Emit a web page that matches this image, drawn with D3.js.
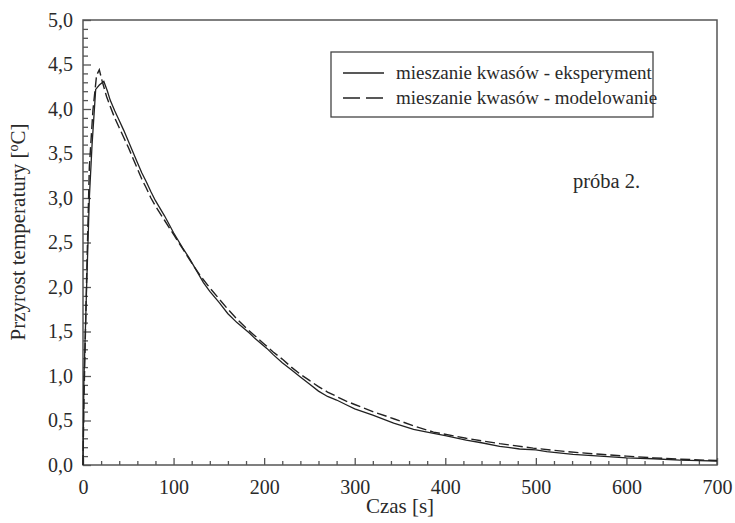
<!DOCTYPE html>
<html><head><meta charset="utf-8">
<script src="https://cdn.jsdelivr.net/npm/d3@7"></script>
<style>body{margin:0;background:#fff}svg{display:block}text{font-family:"Liberation Serif","DejaVu Serif",serif;fill:#2a2a2a}</style>
</head><body><svg id="c" width="735" height="523"></svg>
<script>
const expT = [0,1,4,7,10,14,18,23,27,30,35,40,45,50,55,60,65,70,75,80,90,100,110,117,125,133,140,150,160,170,184,190,203,210,220,230,240,250,260,270,280,290,300,320,343,365,380,400,423,440,460,482,500,512,541,571,600,630,659,680,700];
const expV = [0,0.95,2.0,3.0,3.6,4.22,4.27,4.31,4.2,4.10,3.98,3.87,3.76,3.64,3.52,3.40,3.28,3.18,3.07,2.97,2.80,2.61,2.44,2.33,2.19,2.05,1.95,1.83,1.70,1.60,1.48,1.42,1.31,1.24,1.15,1.07,0.99,0.91,0.83,0.77,0.73,0.68,0.63,0.56,0.47,0.40,0.37,0.33,0.28,0.25,0.21,0.18,0.17,0.15,0.12,0.10,0.08,0.07,0.055,0.05,0.045];
const modT = [0,1,4,7,11,15,18,21,26,30,35,40,45,50,55,60,65,70,75,80,90,100,110,120,130,140,150,160,170,180,190,200,210,220,230,240,250,260,270,280,290,300,320,343,365,387,423,460,497,534,571,600,630,660,700];
const modV = [0,0.7,2.1,3.35,3.99,4.38,4.44,4.32,4.14,4.03,3.90,3.79,3.68,3.57,3.45,3.33,3.21,3.11,3.00,2.91,2.75,2.59,2.43,2.27,2.12,1.99,1.87,1.75,1.64,1.54,1.45,1.36,1.27,1.19,1.10,1.02,0.95,0.88,0.82,0.77,0.72,0.68,0.60,0.52,0.44,0.37,0.30,0.24,0.19,0.15,0.12,0.10,0.08,0.065,0.05];
const xTicks = [0,100,200,300,400,500,600,700];
const yTicks = [0,0.5,1,1.5,2,2.5,3,3.5,4,4.5,5];
const legendLabels = ["mieszanie kwasów - eksperyment","mieszanie kwasów - modelowanie"];
const sampleLabel = "próba 2.";
const xTitle = "Czas [s]";

const svg = d3.select("#c");
const L=83,R=717,T=20,B=465;
const x = d3.scaleLinear().domain([0,700]).range([L,R]);
const y = d3.scaleLinear().domain([0,5]).range([B,T]);
const axisCol="#555";

svg.append("rect").attr("x",L).attr("y",T).attr("width",R-L).attr("height",B-T)
  .attr("fill","none").attr("stroke",axisCol).attr("stroke-width",1.5);

const xa = svg.append("g").attr("transform",`translate(0,${B})`)
  .call(d3.axisBottom(x).tickValues(d3.range(0,701,20)).tickSizeInner(-4).tickSizeOuter(0).tickFormat(""));
xa.select(".domain").remove();
xa.selectAll(".tick line").attr("stroke",axisCol).attr("stroke-width",1.3)
  .attr("y2",d=>d%100===0?-7:-4);
const xl = svg.append("g").attr("transform",`translate(0,${B})`)
  .call(d3.axisBottom(x).tickValues(xTicks).tickSize(0).tickPadding(15).tickFormat(d3.format("d")));
xl.select(".domain").remove();
xl.selectAll("text").attr("font-size",20).attr("fill","#2a2a2a").style("font-family","Liberation Serif, serif");

const ya = svg.append("g").attr("transform",`translate(${L},0)`)
  .call(d3.axisLeft(y).tickValues(d3.range(0,51).map(d=>d/10)).tickSizeInner(-5).tickSizeOuter(0).tickFormat(""));
ya.select(".domain").remove();
ya.selectAll(".tick line").attr("stroke",axisCol).attr("stroke-width",1.3)
  .attr("x2",d=>Math.round(d*10)%5===0?8:5);
const fmt = d=>d3.format(".1f")(d).replace(".",",");
const yl = svg.append("g").attr("transform",`translate(${L},0)`)
  .call(d3.axisLeft(y).tickValues(yTicks).tickSize(0).tickPadding(10).tickFormat(fmt));
yl.select(".domain").remove();
yl.selectAll("text").attr("font-size",20).attr("fill","#2a2a2a").style("font-family","Liberation Serif, serif");

const line = d3.line().x(d=>x(d[0])).y(d=>y(d[1]));
svg.append("path").datum(modT.map((t,i)=>[t,modV[i]])).attr("d",line)
  .attr("fill","none").attr("stroke","#222").attr("stroke-width",1.4).attr("stroke-dasharray","10,4");
svg.append("path").datum(expT.map((t,i)=>[t,expV[i]])).attr("d",line)
  .attr("fill","none").attr("stroke","#222").attr("stroke-width",1.3);

svg.append("rect").attr("x",331).attr("y",52).attr("width",322).attr("height",65)
  .attr("fill","#fff").attr("stroke","#444").attr("stroke-width",1.3);
legendLabels.forEach((lab,i)=>{
  const yy = 73 + i*25;
  svg.append("line").attr("x1",343).attr("x2",384).attr("y1",yy).attr("y2",yy)
    .attr("stroke","#222").attr("stroke-width",1.4).attr("stroke-dasharray",i?"17,6":null);
  svg.append("text").attr("x",396).attr("y",yy+6).attr("font-size",19).text(lab);
});

svg.append("text").attr("x",573).attr("y",188).attr("font-size",20.5).text(sampleLabel);

svg.append("text").attr("x",400).attr("y",513).attr("text-anchor","middle").attr("font-size",21).text(xTitle);

const yt = svg.append("text").attr("transform",`translate(25,232) rotate(-90)`)
  .attr("text-anchor","middle").attr("font-size",21);
yt.append("tspan").text("Przyrost temperatury [");
yt.append("tspan").attr("font-size",14).attr("dy",-7).text("o");
yt.append("tspan").attr("dy",7).text("C]");
</script></body></html>
